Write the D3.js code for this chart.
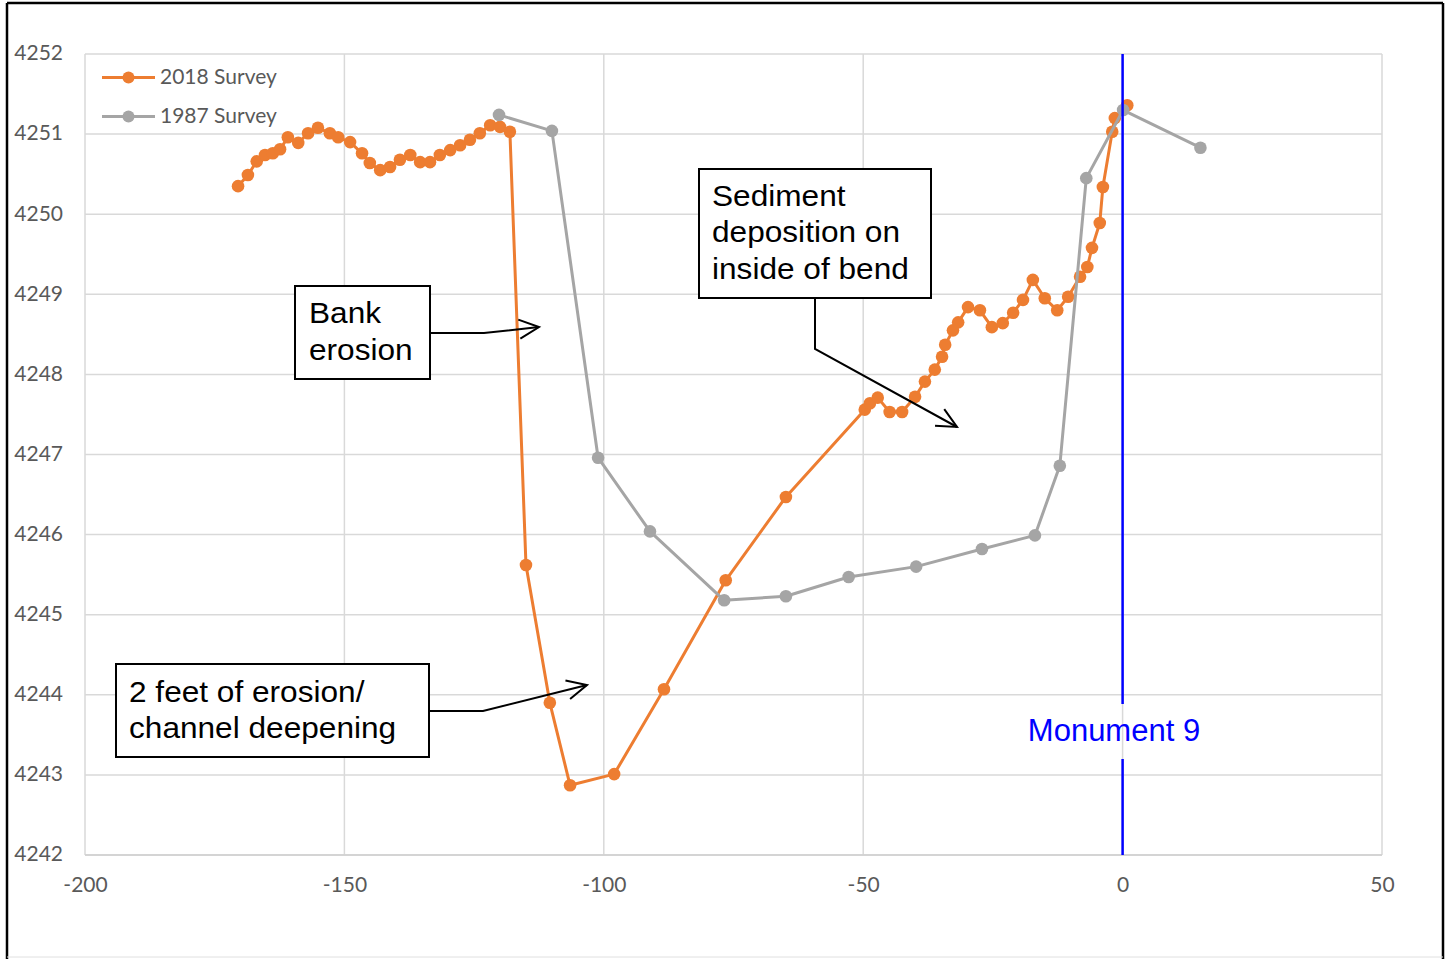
<!DOCTYPE html>
<html><head><meta charset="utf-8">
<script src="https://cdn.jsdelivr.net/npm/d3@7"></script>
<style>body{margin:0;background:#fff;} svg{display:block;}</style>
</head><body>
<script>
// ---- data ----
const xTicks = [-200, -150, -100, -50, 0, 50];
const yTicks = [4242, 4243, 4244, 4245, 4246, 4247, 4248, 4249, 4250, 4251, 4252];
const seriesNames = ["2018 Survey", "1987 Survey"];
const x2018 = [-170.5,-168.6,-166.9,-165.3,-163.8,-162.4,-160.9,-158.9,-157.0,-155.1,-152.8,-151.2,-148.9,-146.6,-145.1,-143.1,-141.2,-139.3,-137.3,-135.4,-133.5,-131.6,-129.6,-127.7,-125.8,-123.9,-121.9,-120.0,-118.1,
  -115.0,-110.4,-106.5,-98.0,-88.4,-76.5,-64.9,
  -49.7,-48.7,-47.2,-44.9,-42.5,-40.0,-38.1,-36.2,-34.8,-34.2,-32.7,-31.7,-29.8,-27.5,-25.2,-23.1,-21.1,-19.2,-17.3,-15.0,-12.6,-10.5,-8.2,-6.8,-5.9,-4.4,-3.8,-2.0,-1.5,0.9];
const y2018 = [4250.35,4250.49,4250.66,4250.74,4250.76,4250.81,4250.96,4250.89,4251.01,4251.08,4251.01,4250.96,4250.90,4250.76,4250.64,4250.55,4250.59,4250.68,4250.74,4250.65,4250.65,4250.74,4250.80,4250.86,4250.93,4251.01,4251.11,4251.09,4251.03,
  4245.62,4243.90,4242.87,4243.01,4244.07,4245.43,4246.47,
  4247.56,4247.64,4247.71,4247.53,4247.53,4247.72,4247.91,4248.06,4248.22,4248.37,4248.55,4248.65,4248.84,4248.80,4248.59,4248.64,4248.77,4248.93,4249.18,4248.95,4248.80,4248.97,4249.22,4249.34,4249.58,4249.89,4250.34,4251.03,4251.20,4251.36];
const x1987 = [-120.2,-110.0,-101.1,-91.1,-76.8,-64.9,-52.8,-39.8,-27.1,-16.9,-12.1,-7.0,0.1,15.0];
const y1987 = [4251.24,4251.04,4246.96,4246.04,4245.18,4245.23,4245.47,4245.60,4245.82,4245.99,4246.86,4250.45,4251.30,4250.83];
const monumentX = 0;
const monumentLabel = "Monument 9";
const notes = [
  {lines:["Bank","erosion"]},
  {lines:["Sediment","deposition on","inside of bend"]},
  {lines:["2 feet of erosion/","channel deepening"]}
];

// ---- layout ----
const W = 1450, H = 959;
const svg = d3.select("body").append("svg").attr("width", W).attr("height", H);
svg.append("rect").attr("width", W).attr("height", H).attr("fill", "#fff");

const x = d3.scaleLinear().domain([-200, 50]).range([85, 1382]);
const y = d3.scaleLinear().domain([4242, 4252]).range([855, 54]);
const grid = "#d9d9d9", lab = "#595959";
const orange = "#ED7D31", gray = "#A5A5A5";

// gridlines
svg.append("g").selectAll("line").data(yTicks).join("line")
  .attr("x1", x(-200)).attr("x2", x(50)).attr("y1", d => y(d)).attr("y2", d => y(d))
  .attr("stroke", grid).attr("stroke-width", 1.5);
svg.append("g").selectAll("line").data(xTicks).join("line")
  .attr("x1", d => x(d)).attr("x2", d => x(d)).attr("y1", y(4242)).attr("y2", y(4252))
  .attr("stroke", grid).attr("stroke-width", 1.5);

// axes (labels only, via d3 axes)
const yAxis = svg.append("g").attr("transform", `translate(${x(-200)},0)`)
  .call(d3.axisLeft(y).tickValues(yTicks).tickSize(0).tickPadding(22).tickFormat(d3.format("d")));
const xAxis = svg.append("g").attr("transform", `translate(0,${y(4242)})`)
  .call(d3.axisBottom(x).tickValues(xTicks).tickSize(0).tickPadding(21).tickFormat(d => d));
[yAxis, xAxis].forEach(g => {
  g.select(".domain").remove();
  g.selectAll("text").attr("fill", lab).style("font-family", "Lato, 'Open Sans', sans-serif").style("font-size", "21px");
});
yAxis.selectAll("text").attr("dy", "0.28em");
xAxis.selectAll("text").attr("dy", "0.75em");
// bottom axis line
svg.append("line").attr("x1", x(-200)).attr("x2", x(50)).attr("y1", y(4242)).attr("y2", y(4242))
  .attr("stroke", "#cfcfcf").attr("stroke-width", 1.5);

// series
const line = d3.line().x(d => x(d[0])).y(d => y(d[1]));
const d18 = x2018.map((v, i) => [v, y2018[i]]);
const d87 = x1987.map((v, i) => [v, y1987[i]]);
function drawSeries(data, color) {
  const g = svg.append("g");
  g.append("path").datum(data).attr("d", line).attr("fill", "none")
    .attr("stroke", color).attr("stroke-width", 3).attr("stroke-linejoin", "round");
  g.selectAll("circle").data(data).join("circle")
    .attr("cx", d => x(d[0])).attr("cy", d => y(d[1])).attr("r", 6.3).attr("fill", color);
}
drawSeries(d18, orange);
drawSeries(d87, gray);

// legend
const legColors = [orange, gray];
const leg = svg.append("g");
seriesNames.forEach((n, i) => {
  const yy = 77.5 + i * 39;
  leg.append("line").attr("x1", 102).attr("x2", 155).attr("y1", yy).attr("y2", yy)
    .attr("stroke", legColors[i]).attr("stroke-width", 3);
  leg.append("circle").attr("cx", 128.5).attr("cy", yy).attr("r", 6).attr("fill", legColors[i]);
  leg.append("text").attr("x", 160).attr("y", yy + 6.5).text(n)
    .attr("fill", lab).style("font-family", "Lato, 'Open Sans', sans-serif").style("font-size", "21px");
});

// monument line
const mx = x(monumentX);
svg.append("line").attr("x1", mx).attr("x2", mx).attr("y1", y(4252)).attr("y2", 704)
  .attr("stroke", "#0000FF").attr("stroke-width", 2.5);
svg.append("line").attr("x1", mx).attr("x2", mx).attr("y1", 759).attr("y2", y(4242))
  .attr("stroke", "#0000FF").attr("stroke-width", 2.5);
svg.append("text").attr("x", 1114).attr("y", 741).attr("text-anchor", "middle")
  .text(monumentLabel).attr("fill", "#0000FF")
  .style("font-family", "'Liberation Sans', Arial, sans-serif").style("font-size", "31px");

// annotations
const boxes = [
  {x0:295, y0:286, x1:430, y1:379, tx:309, ty:323, path:[[430,333],[484,333],[539,327]]},
  {x0:699, y0:169, x1:931, y1:298, tx:712, ty:205.5, path:[[815,298],[815,349],[957,427]]},
  {x0:116, y0:664, x1:429, y1:757, tx:129, ty:701.5, path:[[429,711],[483,711],[587,685]]}
];
const lh = 36.5;
boxes.forEach((b, i) => {
  const g = svg.append("g");
  g.append("rect").attr("x", b.x0).attr("y", b.y0).attr("width", b.x1 - b.x0).attr("height", b.y1 - b.y0)
    .attr("fill", "#fff").attr("stroke", "#000").attr("stroke-width", 2);
  notes[i].lines.forEach((t, j) => {
    g.append("text").attr("transform", `translate(${b.tx},${b.ty + j * lh}) scale(1.09,1)`)
      .text(t).attr("fill", "#000")
      .style("font-family", "'Liberation Sans', Arial, sans-serif").style("font-size", "29px");
  });
  const p = b.path;
  g.append("path").attr("d", d3.line()(p)).attr("fill", "none").attr("stroke", "#000").attr("stroke-width", 2);
  // open arrowhead
  const [ax, ay] = p[p.length - 1], [bx, by] = p[p.length - 2];
  const ang = Math.atan2(ay - by, ax - bx), L = 22, spread = 0.45;
  const h1 = [ax - L * Math.cos(ang - spread), ay - L * Math.sin(ang - spread)];
  const h2 = [ax - L * Math.cos(ang + spread), ay - L * Math.sin(ang + spread)];
  g.append("path").attr("d", d3.line()([h1, [ax, ay], h2])).attr("fill", "none")
    .attr("stroke", "#000").attr("stroke-width", 2);
});

// outer frame
svg.append("line").attr("x1", 7).attr("x2", 7).attr("y1", 3).attr("y2", 959).attr("stroke", "#000").attr("stroke-width", 2.5);
svg.append("line").attr("x1", 7).attr("x2", 1443).attr("y1", 3).attr("y2", 3).attr("stroke", "#000").attr("stroke-width", 2.5);
svg.append("line").attr("x1", 1443).attr("x2", 1443).attr("y1", 3).attr("y2", 959).attr("stroke", "#000").attr("stroke-width", 2.5);
svg.append("line").attr("x1", 7).attr("x2", 1443).attr("y1", 957).attr("y2", 957).attr("stroke", "#e0e0e0").attr("stroke-width", 1);
</script>
</body></html>
